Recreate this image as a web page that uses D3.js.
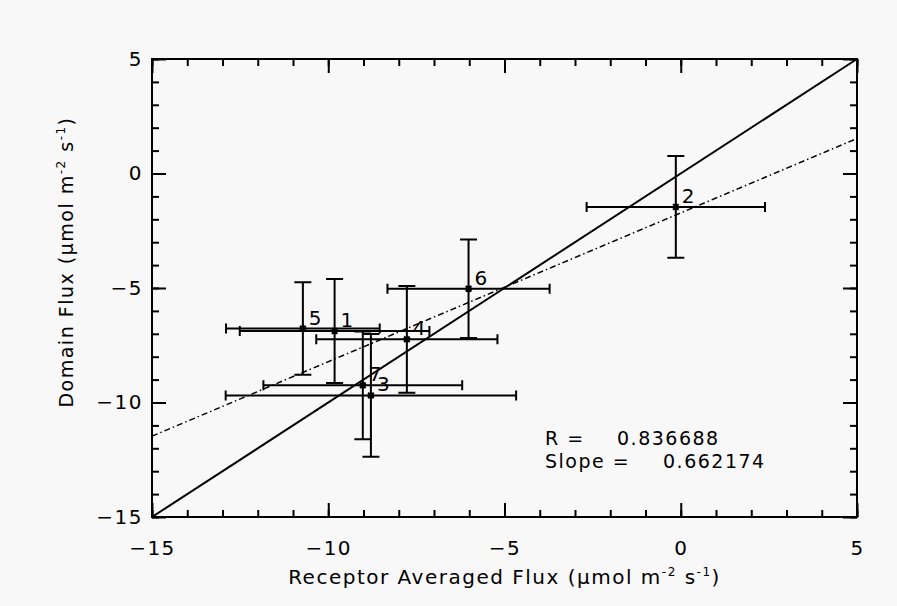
<!DOCTYPE html>
<html>
<head>
<meta charset="utf-8">
<script src="https://cdn.jsdelivr.net/npm/d3@7"></script>
<style>
  body { margin: 0; background: #f8f8f8; }
  svg { display: block; }
  text { font-family: "DejaVu Sans", sans-serif; fill: #000; letter-spacing: 1.5px; }
</style>
</head>
<body>
<svg id="chart" width="897" height="606"></svg>
<script>
// point ids as printed next to each marker
const pointLabels = ["1", "2", "3", "4", "5", "6", "7"];
// receptor averaged flux (x) and its error
const receptorFlux = [-9.82, -0.14, -8.79, -7.77, -10.72, -6.02, -9.02];
const receptorErr = [2.69, 2.53, 4.12, 2.57, 2.18, 2.30, 2.82];
// domain flux (y) and its error
const domainFlux = [-6.88, -1.46, -9.69, -7.24, -6.77, -5.03, -9.25];
const domainErr = [2.27, 2.22, 2.68, 2.33, 2.02, 2.15, 2.35];
// fitted line as drawn (dash-dot)
const fitSlope = 0.65;
const fitIntercept = -1.72;
// stats printed in the plot
const statNames = ["R =", "Slope ="];
const statValues = ["0.836688", "0.662174"];
// axis ticks
const majorTicks = [-15, -10, -5, 0, 5];
const minorTicks = d3.range(-15, 6, 1);

const svg = d3.select("#chart");
const pLeft = 152, pRight = 857, pTop = 59, pBottom = 517;

const x = d3.scaleLinear().domain([-15, 5]).range([pLeft, pRight]);
const y = d3.scaleLinear().domain([-15, 5]).range([pBottom, pTop]);

const data = pointLabels.map((d, i) => ({
  label: d,
  x: receptorFlux[i], xe: receptorErr[i],
  y: domainFlux[i], ye: domainErr[i]
}));

// axes: major + minor ticks pointing inward on all four sides
function axes(axisFn, scale, pos, withLabels) {
  const g = svg.append("g").attr("transform", pos);
  g.call(axisFn(scale).tickValues(minorTicks).tickSize(-7).tickSizeOuter(0).tickFormat(""));
  const m = svg.append("g").attr("transform", pos)
    .call(axisFn(scale).tickValues(majorTicks).tickSize(-14).tickSizeOuter(0)
      .tickPadding(axisFn === d3.axisBottom ? 24 : 9)
      .tickFormat(withLabels ? d3.format("d") : ""));
  [g, m].forEach(s => {
    s.select(".domain").remove();
    s.selectAll("line").attr("stroke", "#000").attr("stroke-width", 2);
  });
  m.selectAll("text").attr("font-size", 20).attr("font-family", "DejaVu Sans");
}
axes(d3.axisBottom, x, `translate(0,${pBottom})`, true);
axes(d3.axisTop, x, `translate(0,${pTop})`, false);
axes(d3.axisLeft, y, `translate(${pLeft},0)`, true);
axes(d3.axisRight, y, `translate(${pRight},0)`, false);

svg.append("rect")
  .attr("x", pLeft).attr("y", pTop)
  .attr("width", pRight - pLeft).attr("height", pBottom - pTop)
  .attr("fill", "none").attr("stroke", "#000").attr("stroke-width", 2);

const plot = svg.append("g");

// 1:1 line
plot.append("line")
  .attr("x1", x(-15)).attr("y1", y(-15))
  .attr("x2", x(5)).attr("y2", y(5))
  .attr("stroke", "#000").attr("stroke-width", 2);

// fit line
plot.append("line")
  .attr("x1", x(-15)).attr("y1", y(fitIntercept + fitSlope * -15))
  .attr("x2", x(5)).attr("y2", y(fitIntercept + fitSlope * 5))
  .attr("stroke", "#000").attr("stroke-width", 1.5)
  .attr("stroke-dasharray", "6,3,1.5,3");

const pts = plot.selectAll("g.pt").data(data).enter().append("g").attr("class", "pt");

// horizontal error bars
pts.append("path")
  .attr("d", d => `M${x(d.x - d.xe)},${y(d.y)}H${x(d.x + d.xe)}` +
    `M${x(d.x - d.xe)},${y(d.y) - 5}v10M${x(d.x + d.xe)},${y(d.y) - 5}v10`)
  .attr("stroke", "#000").attr("stroke-width", 2).attr("fill", "none");

// vertical error bars
pts.append("path")
  .attr("d", d => `M${x(d.x)},${y(d.y - d.ye)}V${y(d.y + d.ye)}` +
    `M${x(d.x) - 8.5},${y(d.y - d.ye)}h17M${x(d.x) - 8.5},${y(d.y + d.ye)}h17`)
  .attr("stroke", "#000").attr("stroke-width", 2).attr("fill", "none");

// asterisk markers
pts.append("path")
  .attr("d", d => {
    const cx = x(d.x), cy = y(d.y), r = 3.5;
    return `M${cx - r},${cy}h${2 * r}M${cx},${cy - r}v${2 * r}` +
      `M${cx - r * 0.8},${cy - r * 0.8}l${1.6 * r},${1.6 * r}` +
      `M${cx - r * 0.8},${cy + r * 0.8}l${1.6 * r},${-1.6 * r}`;
  })
  .attr("stroke", "#000").attr("stroke-width", 2);

pts.append("text")
  .attr("x", d => x(d.x) + 6)
  .attr("y", d => y(d.y) - 4)
  .attr("font-size", 20)
  .text(d => d.label);

// stats text
const statValX = [617, 663];
const statY = [445, 468];
statNames.forEach((n, i) => {
  const t = svg.append("text").attr("y", statY[i]).attr("font-size", 19);
  t.append("tspan").attr("x", 545).text(n);
  t.append("tspan").attr("x", statValX[i]).text(statValues[i]);
});

// axis titles with superscripts
function unitTitle(sel, name) {
  sel.append("tspan").text(name + " (\u03bcmol m");
  sel.append("tspan").attr("dy", -8).attr("font-size", 12).text("-2");
  sel.append("tspan").attr("dy", 8).text(" s");
  sel.append("tspan").attr("dy", -8).attr("font-size", 12).text("-1");
  sel.append("tspan").attr("dy", 8).text(")");
}

const xt = svg.append("text")
  .attr("x", (pLeft + pRight) / 2).attr("y", 584)
  .attr("text-anchor", "middle").attr("font-size", 20);
unitTitle(xt, "Receptor Averaged Flux");

const yt = svg.append("text")
  .attr("transform", "translate(73,262) rotate(-90)")
  .attr("text-anchor", "middle").attr("font-size", 19);
unitTitle(yt, "Domain Flux");
</script>
</body>
</html>
